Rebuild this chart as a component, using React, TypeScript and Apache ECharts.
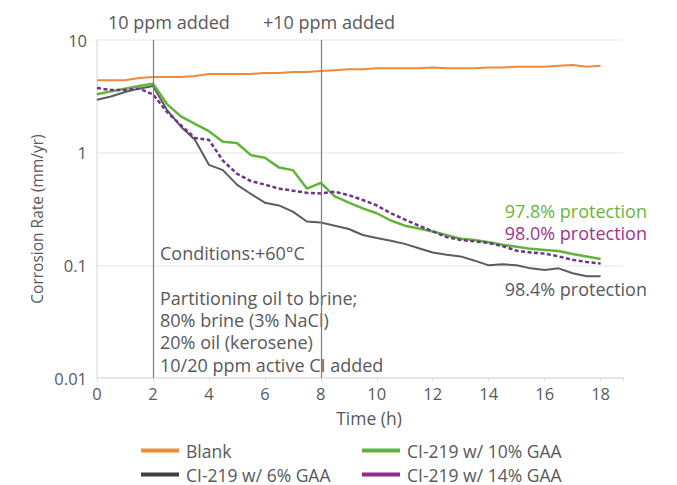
import React, { useEffect, useRef } from "react";
import * as echarts from "echarts";

const times = [0, 0.5, 1, 1.5, 2, 2.5, 3, 3.5, 4, 4.5, 5, 5.5, 6, 6.5, 7, 7.5, 8, 8.5, 9, 9.5, 10, 10.5, 11, 11.5, 12, 12.5, 13, 13.5, 14, 14.5, 15, 15.5, 16, 16.5, 17, 17.5, 18];

const blank = [4.4, 4.4, 4.4, 4.6, 4.7, 4.7, 4.7, 4.8, 5.0, 5.0, 5.0, 5.0, 5.1, 5.1, 5.2, 5.2, 5.3, 5.4, 5.5, 5.5, 5.6, 5.6, 5.6, 5.6, 5.7, 5.6, 5.6, 5.6, 5.7, 5.7, 5.8, 5.8, 5.8, 5.9, 6.0, 5.8, 5.9];
const gaa6 = [2.95, 3.15, 3.45, 3.7, 3.9, 2.4, 1.7, 1.3, 0.78, 0.7, 0.52, 0.43, 0.36, 0.34, 0.3, 0.245, 0.24, 0.225, 0.21, 0.186, 0.175, 0.165, 0.155, 0.142, 0.13, 0.124, 0.12, 0.11, 0.1, 0.102, 0.1, 0.094, 0.091, 0.094, 0.085, 0.08, 0.08];
const gaa10 = [3.3, 3.5, 3.7, 3.9, 4.1, 2.7, 2.1, 1.8, 1.55, 1.25, 1.22, 0.95, 0.9, 0.74, 0.7, 0.48, 0.54, 0.41, 0.36, 0.32, 0.29, 0.25, 0.225, 0.212, 0.2, 0.185, 0.172, 0.168, 0.16, 0.152, 0.146, 0.14, 0.137, 0.134, 0.126, 0.12, 0.114];
const gaa14 = [3.75, 3.6, 3.6, 3.7, 3.3, 2.3, 1.75, 1.35, 1.3, 0.85, 0.65, 0.56, 0.52, 0.48, 0.46, 0.44, 0.435, 0.45, 0.42, 0.38, 0.34, 0.29, 0.255, 0.225, 0.2, 0.178, 0.168, 0.163, 0.158, 0.148, 0.135, 0.13, 0.127, 0.12, 0.112, 0.107, 0.104];

const seriesNames = ["Blank", "CI-219 w/ 6% GAA", "CI-219 w/ 10% GAA", "CI-219 w/ 14% GAA"];
const additionTimes = [2, 8];
const yTickLabels: Record<string, string> = { "0.01": "0.01", "0.1": "0.1", "1": "1", "10": "10" };

const FONT = "'Open Sans', Lato, sans-serif";
const TEXT = "#58595b";
const COLORS = ["#F08A3A", "#3d4145", "#62B33A", "#93278F"];

// legend slot positions: [left, top] for each series' legend entry
const legendSlots = [
  [141, 441],
  [141, 465],
  [362, 441],
  [362, 465],
];

export default function App() {
  const ref = useRef<HTMLDivElement>(null);
  useEffect(() => {
    if (!ref.current) return;
    const chart = echarts.init(ref.current, null, { renderer: "svg" });
    const pairs = (arr: number[]) => times.map((t, i) => [t, arr[i]]);
    const lineText = (text: string, x: number, y: number, fill = TEXT, align = "left", size = 18) => ({
      type: "text",
      x,
      y,
      style: { text, fill, font: `${size}px ${FONT}`, textAlign: align, textVerticalAlign: "middle" },
    });
    chart.setOption({
      animation: false,
      textStyle: { fontFamily: FONT },
      grid: { left: 97, right: 54, top: 40, bottom: 107 },
      xAxis: {
        type: "value",
        min: 0,
        max: 18.8,
        interval: 2,
        axisLine: { show: true, lineStyle: { color: "#e2e2e2", width: 1.5 } },
        axisTick: { show: true, length: 4, lineStyle: { color: "#e2e2e2" } },
        splitLine: { show: false },
        axisLabel: {
          color: TEXT,
          fontSize: 16.5,
          fontFamily: FONT,
          margin: 7,
          formatter: (v: number) => (Math.abs(v % 2) < 1e-6 ? String(v) : ""),
        },
      },
      yAxis: {
        type: "log",
        logBase: 10,
        min: 0.01,
        max: 10,
        axisLine: { show: true, lineStyle: { color: "#e2e2e2", width: 1.5 } },
        axisTick: { show: false },
        splitLine: { show: true, lineStyle: { color: "#eeeeee", width: 1.5 } },
        minorSplitLine: { show: false },
        axisLabel: {
          color: TEXT,
          fontSize: 16.5,
          fontFamily: FONT,
          margin: 10,
          formatter: (v: number) => {
            const k = String(Number(v.toPrecision(3)));
            return yTickLabels[k] ?? k;
          },
        },
      },
      legend: seriesNames.map((name, i) => ({
        left: legendSlots[i][0],
        top: legendSlots[i][1],
        data: [name],
        icon: "rect",
        itemWidth: 38,
        itemHeight: 4,
        padding: 0,
        selectedMode: false,
        textStyle: { color: TEXT, fontSize: 17.5, fontFamily: FONT, lineHeight: 19, padding: [0, 0, 0, 2] },
      })),
      series: [
        {
          name: seriesNames[0],
          type: "line",
          data: pairs(blank),
          symbol: "none",
          itemStyle: { color: COLORS[0] },
          lineStyle: { color: COLORS[0], width: 2 },
          markLine: {
            silent: true,
            symbol: "none",
            label: { show: false },
            lineStyle: { color: "#7d7d7d", width: 1.2, type: "solid" },
            data: additionTimes.map((t) => ({ xAxis: t })),
          },
        },
        {
          name: seriesNames[1],
          type: "line",
          data: pairs(gaa6),
          symbol: "none",
          itemStyle: { color: COLORS[1] },
          lineStyle: { color: "#5a5d60", width: 2 },
        },
        {
          name: seriesNames[2],
          type: "line",
          data: pairs(gaa10),
          symbol: "none",
          itemStyle: { color: COLORS[2] },
          lineStyle: { color: COLORS[2], width: 2.5 },
        },
        {
          name: seriesNames[3],
          type: "line",
          data: pairs(gaa14),
          symbol: "none",
          itemStyle: { color: COLORS[3] },
          lineStyle: { color: "#6e3489", width: 2.5, type: [4, 2.5] },
        },
      ],
      graphic: [
        {
          type: "text",
          x: 37,
          y: 219,
          rotation: Math.PI / 2,
          style: {
            text: "Corrosion Rate (mm/yr)",
            fill: TEXT,
            font: `15.5px ${FONT}`,
            textAlign: "center",
            textVerticalAlign: "middle",
          },
        },
        lineText("Time (h)", 369, 418, TEXT, "center", 17.5),
        lineText("10 ppm added", 108, 22),
        lineText("+10 ppm added", 263, 22),
        lineText("Conditions:+60°C", 160, 253),
        lineText("Partitioning oil to brine;", 160, 298),
        lineText("80% brine (3% NaCl)", 160, 320),
        lineText("20% oil (kerosene)", 160, 342),
        lineText("10/20 ppm active CI added", 160, 365),
        lineText("97.8% protection", 647, 211, "#6DB33F", "right"),
        lineText("98.0% protection", 647, 233, "#A0338F", "right"),
        lineText("98.4% protection", 647, 289, TEXT, "right"),
      ],
    });
    return () => chart.dispose();
  }, []);
  return <div ref={ref} style={{ position: "absolute", left: 0, top: 0, width: 677, height: 485 }} />;
}
